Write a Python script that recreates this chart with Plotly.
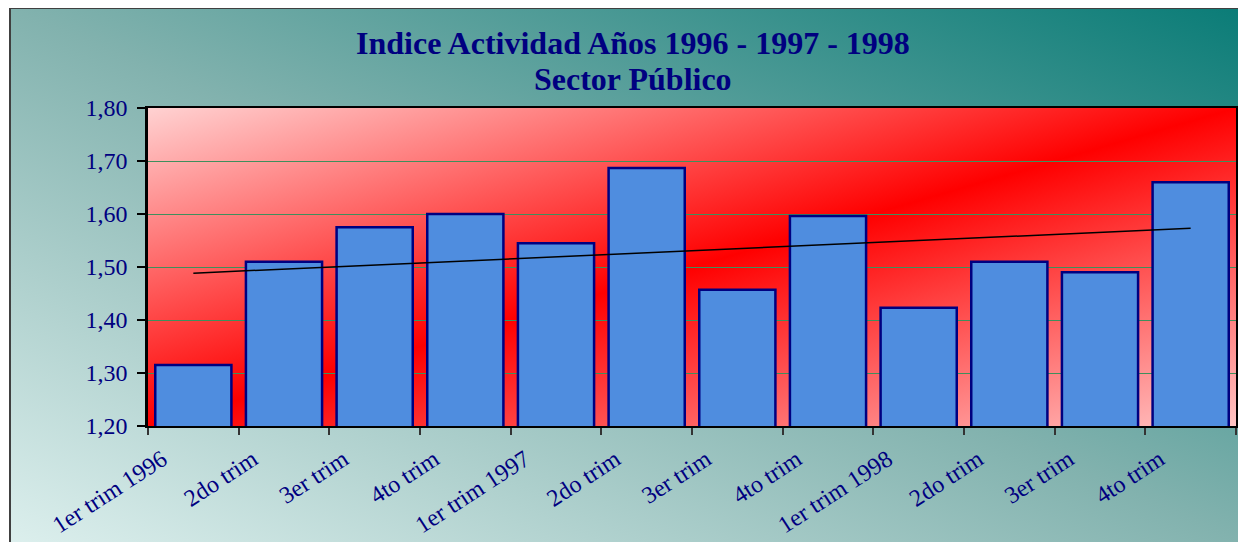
import base64
import numpy as np
import plotly.graph_objects as go

categories = ["1er trim 1996", "2do trim", "3er trim", "4to trim",
              "1er trim 1997", "2do trim", "3er trim", "4to trim",
              "1er trim 1998", "2do trim", "3er trim", "4to trim"]
values = [1.315, 1.51, 1.575, 1.60, 1.545, 1.687, 1.457, 1.596, 1.423, 1.51, 1.49, 1.66]
y_ticks = [1.2, 1.3, 1.4, 1.5, 1.6, 1.7, 1.8]
title_lines = ["Indice Actividad Años 1996 - 1997 - 1998", "Sector Público"]

# page body has an 8px margin: figure occupies the window from (8, 8)
OFF = 8
W, H = 1246 - OFF, 542 - OFF
L, R, T, B = 140, 10, 100, 116
PW, PH = W - L - R, H - T - B


def px(X):  # window pixel -> paper x
    return (X - OFF - L) / PW


def py(Y):  # window pixel -> paper y
    return (H - B - (Y - OFF)) / PH


def svg_uri(svg):
    return "data:image/svg+xml;base64," + base64.b64encode(svg.encode()).decode()


bg_svg = ('<svg xmlns="http://www.w3.org/2000/svg" width="100" height="100" preserveAspectRatio="none">'
          '<defs><linearGradient id="g" x1="0" y1="1" x2="1" y2="0">'
          '<stop offset="0" stop-color="#dcefed"/><stop offset="0.5" stop-color="#82b2ae"/>'
          '<stop offset="1" stop-color="#0a7c77"/></linearGradient></defs>'
          '<rect width="100" height="100" fill="url(#g)"/></svg>')
plot_svg = ('<svg xmlns="http://www.w3.org/2000/svg" width="100" height="100" preserveAspectRatio="none">'
            '<defs><linearGradient id="g" x1="0" y1="0" x2="1" y2="1">'
            '<stop offset="0" stop-color="#ffd2d2"/><stop offset="0.5" stop-color="#ff0000"/>'
            '<stop offset="1" stop-color="#ffc4c4"/></linearGradient></defs>'
            '<rect width="100" height="100" fill="url(#g)"/></svg>')

x = np.arange(len(values))
slope, intercept = np.polyfit(x, values, 1)
trend = slope * x + intercept

fig = go.Figure()
fig.add_trace(go.Bar(
    x=x, y=values, width=0.84,
    marker=dict(color="#4f8ddf", line=dict(color="#000080", width=2.5)),
    hoverinfo="y",
))
fig.add_trace(go.Scatter(
    x=x, y=trend, mode="lines", line=dict(color="black", width=1.5), hoverinfo="skip",
))

images = [
    dict(source=svg_uri(bg_svg), xref="paper", yref="paper", x=px(10), y=py(8),
         sizex=px(1246) - px(10), sizey=py(8) - py(542), sizing="stretch", layer="below",
         xanchor="left", yanchor="top"),
    dict(source=svg_uri(plot_svg), xref="paper", yref="paper", x=0, y=1,
         sizex=1, sizey=1, sizing="stretch", layer="below", xanchor="left", yanchor="top"),
]

shapes = [dict(type="rect", xref="paper", yref="paper", x0=px(10), x1=px(1252),
               y0=py(8), y1=py(548), line=dict(color="#404040", width=2), layer="below")]

annotations = [
    dict(text="<b>%s</b>" % title_lines[0], xref="paper", yref="paper",
         x=px(633), y=py(43), xanchor="center", yanchor="middle", showarrow=False,
         font=dict(family="Liberation Serif", size=32, color="#000080")),
    dict(text="<b>%s</b>" % title_lines[1], xref="paper", yref="paper",
         x=px(633), y=py(79), xanchor="center", yanchor="middle", showarrow=False,
         font=dict(family="Liberation Serif", size=32, color="#000080")),
]

fig.update_layout(
    width=W, height=H,
    margin=dict(l=L, r=R, t=T, b=B, autoexpand=False),
    paper_bgcolor="white",
    plot_bgcolor="rgba(0,0,0,0)",
    separators=",.",
    showlegend=False,
    images=images,
    shapes=shapes,
    annotations=annotations,
    xaxis=dict(
        range=[-0.5, len(values) - 0.5], automargin=False,
        tickmode="array", tickvals=list(x), ticktext=categories,
        ticks="", tickangle=-33, ticklabelshift=-31, ticklabelstandoff=8,
        tickfont=dict(family="Liberation Serif", size=24, color="#000080"),
        showgrid=False, zeroline=False,
        showline=True, linecolor="black", linewidth=2, mirror=True,
        minor=dict(tickmode="linear", tick0=0.5, dtick=1, ticks="outside",
                   ticklen=7, tickwidth=1.5, tickcolor="#333333", showgrid=False),
    ),
    yaxis=dict(
        range=[1.2, 1.8], automargin=False,
        tickmode="array", tickvals=y_ticks, tickformat=".2f",
        ticks="outside", ticklen=8, tickwidth=1.5, tickcolor="black",
        ticklabelstandoff=5,
        tickfont=dict(family="Liberation Serif", size=24, color="#000080"),
        showgrid=True, gridcolor="#3f8f5c", gridwidth=1,
        zeroline=False,
        showline=True, linecolor="black", linewidth=2.5, mirror=True,
    ),
)

fig.write_html("out.html")
